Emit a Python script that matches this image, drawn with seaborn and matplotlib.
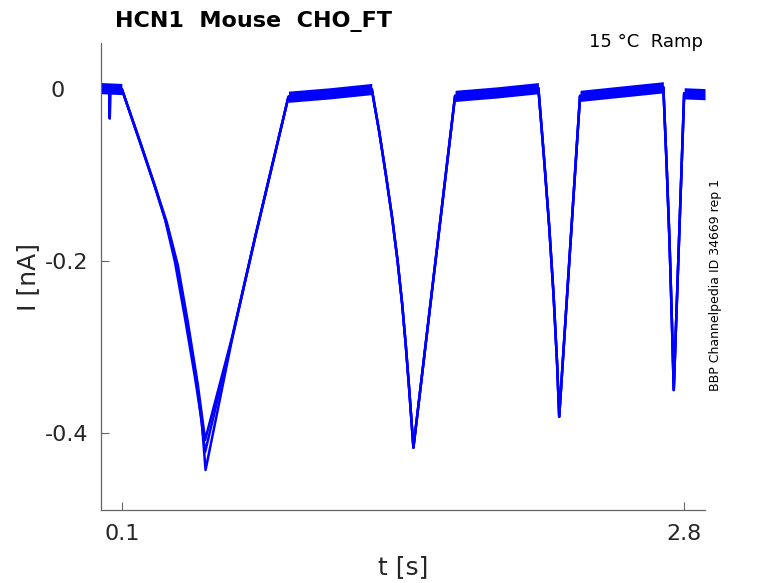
import matplotlib
matplotlib.use("Agg")
import matplotlib.pyplot as plt
import matplotlib.transforms as mtransforms
import seaborn as sns
import numpy as np

# time [s] / current [nA]
t_start = [0.000, 0.030, 0.040, 0.042, 0.044, 0.070, 0.100]
i_start = [0.001, 0.002, 0.004, -0.034, 0.004, 0.002, 0.000]

# first ramp is slightly different in each sweep
t_ramp1_a = [0.187, 0.259, 0.307, 0.355, 0.403, 0.451, 0.484, 0.502,
             0.630, 0.740]
i_ramp1_a = [-0.061, -0.113, -0.151, -0.201, -0.266, -0.335, -0.387, -0.443,
             -0.290, -0.172]
t_ramp1_b = [0.187, 0.259, 0.316, 0.369, 0.417, 0.465, 0.500,
             0.630, 0.740]
i_ramp1_b = [-0.061, -0.113, -0.155, -0.205, -0.271, -0.344, -0.408,
             -0.288, -0.172]
t_ramp1_c = [0.187, 0.259, 0.311, 0.364, 0.412, 0.460, 0.500,
             0.630, 0.740]
i_ramp1_c = [-0.062, -0.114, -0.154, -0.204, -0.269, -0.341, -0.422,
             -0.289, -0.173]

# rest of the protocol (same for all sweeps)
t_tail = [0.900, 1.100, 1.300, 1.336, 1.368, 1.398, 1.424, 1.446, 1.464,
          1.480, 1.500, 1.700, 1.900, 2.100, 2.127, 2.152, 2.173, 2.190,
          2.200, 2.300, 2.500, 2.700, 2.716, 2.730, 2.741, 2.750, 2.800,
          2.900]
i_tail = [-0.009, -0.005, 0.000, -0.050, -0.100, -0.150, -0.200, -0.250,
          -0.300, -0.350, -0.417, -0.008, -0.004, 0.001, -0.080, -0.160,
          -0.240, -0.320, -0.381, -0.008, -0.003, 0.002, -0.090, -0.180,
          -0.270, -0.350, -0.005, -0.006]

# holding segments, drawn as a noise band
plateau_t = [[0.000, 0.100], [0.900, 1.100, 1.300], [1.700, 1.900, 2.100],
             [2.300, 2.500, 2.700], [2.800, 2.900]]
plateau_i = [[0.001, 0.000], [-0.009, -0.005, 0.000], [-0.008, -0.004, 0.001],
             [-0.008, -0.003, 0.002], [-0.005, -0.006]]
noise = 0.0065

yticks = [-0.4, -0.2, 0]
ytick_labels = ["-0.4", "-0.2", "0"]
xticks = [0.1, 2.8]
xtick_labels = ["0.1", "2.8"]

sns.set_style("ticks")
plt.rcParams["font.family"] = ["DejaVu Sans"]

fig = plt.figure(figsize=(7.78, 5.83), dpi=100)
ax = fig.add_axes([101 / 778, 73 / 583, 604 / 778, 467 / 583])

sweeps = [(t_ramp1_a, i_ramp1_a), (t_ramp1_b, i_ramp1_b), (t_ramp1_c, i_ramp1_c)]
for tr, ir in sweeps:
    t = t_start + tr + t_tail
    i = i_start + ir + i_tail
    sns.lineplot(x=t, y=i, ax=ax, color="blue", lw=1.8, sort=False,
                 estimator=None)

for pt, pi in zip(plateau_t, plateau_i):
    pi = np.array(pi)
    ax.fill_between(pt, pi - noise, pi + noise, color="blue", lw=0)

ax.set_xlim(0, 2.9)
ax.set_ylim(-0.4895, 0.0535)
ax.set_xticks(xticks)
ax.set_xticklabels(xtick_labels)
ax.set_yticks(yticks)
ax.set_yticklabels(ytick_labels)
ax.tick_params(direction="in", length=6, width=0.8, color="#666666",
               labelsize=16, labelcolor="#262626")
ax.tick_params(axis="x", pad=10)
ax.tick_params(axis="y", pad=9)
for s in ["top", "right"]:
    ax.spines[s].set_visible(False)
for s in ["left", "bottom"]:
    ax.spines[s].set_color("#666666")
    ax.spines[s].set_linewidth(0.9)

# the "0" label sits a bit further left in the original
lbl = ax.get_yticklabels()[2]
lbl.set_transform(lbl.get_transform() +
                  mtransforms.ScaledTranslation(-24 / 100, 0, fig.dpi_scale_trans))

fig.text(115 / 778, 1 - 27 / 583, "HCN1  Mouse  CHO_FT", fontsize=16,
         fontweight="bold", color="black", va="baseline", ha="left")
fig.text(703 / 778, 1 - 47 / 583, "15 °C  Ramp", fontsize=13, color="black",
         va="baseline", ha="right")
fig.text(716 / 778, 1 - 285 / 583, "BBP Channelpedia ID 34669 rep 1",
         fontsize=9, color="black", rotation=90, va="center", ha="center")
fig.text(403 / 778, 1 - 567 / 583, "t [s]", fontsize=18, color="#262626",
         va="center", ha="center")
fig.text(28 / 778, 1 - 277 / 583, "I [nA]", fontsize=18, color="#262626",
         rotation=90, va="center", ha="center")

plt.savefig("out.png", dpi=100)
